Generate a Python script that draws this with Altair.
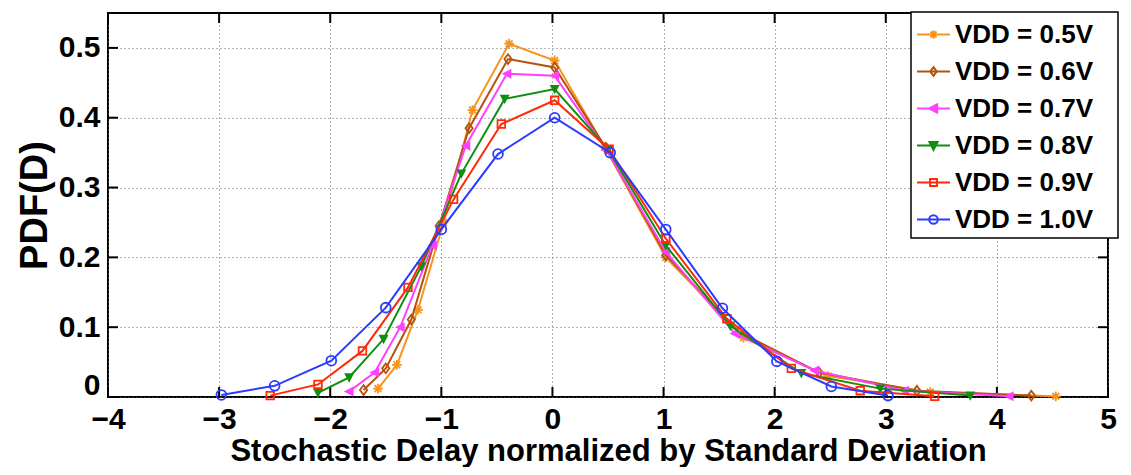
import altair as alt
import pandas as pd

SERIES = ["VDD = 0.5V", "VDD = 0.6V", "VDD = 0.7V", "VDD = 0.8V", "VDD = 0.9V", "VDD = 1.0V"]
COLORS = ["#F7941D", "#B5520F", "#FF40FF", "#0F8F0F", "#FF2A0A", "#2B3BFF"]

x_05 = [-1.57, -1.40, -1.21, -0.98, -0.72, -0.39, 0.02, 0.47, 1.02, 1.72, 2.48, 3.40, 4.53]
y_05 = [0.012, 0.046, 0.125, 0.250, 0.411, 0.506, 0.482, 0.358, 0.200, 0.085, 0.030, 0.007, 0.001]

x_06 = [-1.70, -1.50, -1.27, -1.02, -0.75, -0.40, 0.02, 0.48, 1.02, 1.68, 2.40, 3.28, 4.31]
y_06 = [0.010, 0.041, 0.111, 0.245, 0.385, 0.484, 0.472, 0.357, 0.203, 0.093, 0.035, 0.009, 0.002]

x_07 = [-1.83, -1.60, -1.37, -1.08, -0.78, -0.41, 0.02, 0.49, 1.02, 1.64, 2.36, 3.17, 4.11]
y_07 = [0.008, 0.035, 0.100, 0.217, 0.360, 0.463, 0.460, 0.353, 0.208, 0.091, 0.038, 0.009, 0.001]

x_08 = [-2.11, -1.83, -1.52, -1.18, -0.82, -0.43, 0.02, 0.50, 1.02, 1.60, 2.24, 2.95, 3.76]
y_08 = [0.006, 0.028, 0.083, 0.187, 0.320, 0.427, 0.441, 0.355, 0.217, 0.102, 0.034, 0.012, 0.002]

x_09 = [-2.54, -2.11, -1.71, -1.30, -0.89, -0.46, 0.02, 0.51, 1.02, 1.57, 2.15, 2.77, 3.44]
y_09 = [0.002, 0.018, 0.066, 0.157, 0.283, 0.391, 0.425, 0.355, 0.227, 0.112, 0.041, 0.009, 0.001]

x_10 = [-2.98, -2.50, -1.99, -1.50, -1.00, -0.49, 0.02, 0.52, 1.02, 1.53, 2.02, 2.51, 3.02]
y_10 = [0.003, 0.016, 0.052, 0.128, 0.240, 0.348, 0.400, 0.350, 0.240, 0.127, 0.051, 0.015, 0.002]

X_TICKS = [-4, -3, -2, -1, 0, 1, 2, 3, 4, 5]
Y_TICKS = [0, 0.1, 0.2, 0.3, 0.4, 0.5]

XS = [x_05, x_06, x_07, x_08, x_09, x_10]
YS = [y_05, y_06, y_07, y_08, y_09, y_10]

# ---- marker shapes (unit paths, -1..1) ----
def fmt(v):
    return f"{v:.3f}"

def poly(pts, s=1.0):
    return "M" + "L".join(f"{fmt(x*s)},{fmt(y*s)}" for x, y in pts) + "Z"

def circle(s=1.0):
    r = fmt(s)
    return f"M{r},0A{r},{r} 0 1,1 -{r},0A{r},{r} 0 1,1 {r},0Z"

def asterisk(s=1.0):
    a = fmt(s); d = fmt(0.7 * s)
    return f"M-{a},0H{a}M0,-{a}V{a}M-{d},-{d}L{d},{d}M-{d},{d}L{d},-{d}"

TRI_LEFT = [(-1, 0), (0.85, -0.95), (0.85, 0.95)]
TRI_DOWN = [(-0.95, -0.8), (0.95, -0.8), (0, 1)]
SQUARE = [(-0.8, -0.8), (0.8, -0.8), (0.8, 0.8), (-0.8, 0.8)]
DIAMOND = [(0, -1), (0.75, 0), (0, 1), (-0.75, 0)]

def marker(i, s=1.0, solid=False):
    if i == 0:
        return asterisk(s)
    if i == 1:
        return poly(DIAMOND, s)
    if i == 2:
        p = poly(TRI_LEFT, s)
        return p + (poly(TRI_LEFT, s * 0.55) + poly(TRI_LEFT, s * 0.2) if solid else "")
    if i == 3:
        p = poly(TRI_DOWN, s)
        return p + (poly(TRI_DOWN, s * 0.55) + poly(TRI_DOWN, s * 0.2) if solid else "")
    if i == 4:
        return poly(SQUARE, s)
    return circle(s)

FILLED = [False, False, True, True, False, False]
MARK_SIZE = [95, 95, 110, 110, 90, 95]
LEG_SCALE = 0.26
LEGEND_SHAPES = ["M-1,0H1" + marker(i, LEG_SCALE, solid=True) for i in range(6)]

W, H = 1000, 384
FONT = "Liberation Sans"

frames = []
for i, name in enumerate(SERIES):
    frames.append(pd.DataFrame({"x": XS[i], "y": YS[i], "series": name}))
df = pd.concat(frames, ignore_index=True)

x_scale = alt.Scale(domain=[-4, 5], nice=False, zero=False)
y_scale = alt.Scale(domain=[0, 0.55], nice=False)
x_axis = alt.Axis(values=X_TICKS, format="d", grid=True, ticks=False, domain=False,
                  labelFlush=False,
                  title="Stochastic Delay normalized by Standard Deviation",
                  labelPadding=7, titlePadding=2, titleFontSize=31)
y_axis = alt.Axis(values=Y_TICKS, format="~f", grid=True, ticks=False, domain=False,
                  labelFlush=True, labelFlushOffset=3,
                  title="PDF(D)", labelPadding=8, titlePadding=4, titleFontSize=38)

X = alt.X("x:Q", scale=x_scale, axis=x_axis)
Y = alt.Y("y:Q", scale=y_scale, axis=y_axis)

layers = []
for i, name in enumerate(SERIES):
    sub = df[df["series"] == name]
    base = alt.Chart(sub)
    layers.append(base.mark_line(color=COLORS[i], strokeWidth=2).encode(x=X, y=Y))
    layers.append(base.mark_point(shape=marker(i), size=MARK_SIZE[i], filled=FILLED[i],
                                  color=COLORS[i], strokeWidth=1.8, opacity=1)
                  .encode(x=X, y=Y))

legend = alt.Legend(orient="none", legendX=803, legendY=-1, title=None,
                    labelFont=FONT, labelFontSize=26, labelFontWeight="bold", labelColor="black",
                    labelLimit=400,
                    symbolSize=1089, symbolStrokeWidth=2, symbolOpacity=1,
                    strokeColor="black", fillColor="white", padding=5, rowPadding=6,
                    labelOffset=4, labelExpr="datum.label + '\u2800'")

helper = alt.Chart(df).mark_point(opacity=0, filled=False).encode(
    x=X, y=Y,
    color=alt.Color("series:N", scale=alt.Scale(domain=SERIES, range=COLORS), legend=legend),
    shape=alt.Shape("series:N", scale=alt.Scale(domain=SERIES, range=LEGEND_SHAPES), legend=legend),
)

xt = pd.DataFrame({"v": X_TICKS})
yt = pd.DataFrame({"v": Y_TICKS})
XT = alt.X("v:Q", scale=x_scale, axis=x_axis)
YT = alt.Y("v:Q", scale=y_scale, axis=y_axis)
tick_bottom = alt.Chart(xt).mark_rule(color="black", strokeWidth=2).encode(
    x=XT, y=alt.value(H), y2=alt.value(H - 10))
tick_top = alt.Chart(xt).mark_rule(color="black", strokeWidth=2).encode(
    x=XT, y=alt.value(0), y2=alt.value(10))
tick_left = alt.Chart(yt).mark_rule(color="black", strokeWidth=2).encode(
    y=YT, x=alt.value(0), x2=alt.value(10))
tick_right = alt.Chart(yt).mark_rule(color="black", strokeWidth=2).encode(
    y=YT, x=alt.value(W), x2=alt.value(W - 10))

chart = alt.layer(tick_bottom, tick_top, tick_left, tick_right, *layers, helper).properties(
    width=W, height=H,
    padding={"left": 100, "top": 5, "right": 15, "bottom": 70},
    autosize=alt.AutoSizeParams(type="none"),
    background="white",
).configure_view(
    stroke="black", strokeWidth=2, fill="white"
).configure_axis(
    labelFont=FONT, labelFontSize=30, labelFontWeight="bold", labelColor="black",
    titleFont=FONT, titleFontWeight="bold", titleColor="black",
    gridColor="#666666", gridDash=[1, 3], gridWidth=1, gridOpacity=1,
).configure_legend(
    strokeWidth=1.5
)

chart.save("out.html", embed_options={"renderer": "svg", "actions": False})
